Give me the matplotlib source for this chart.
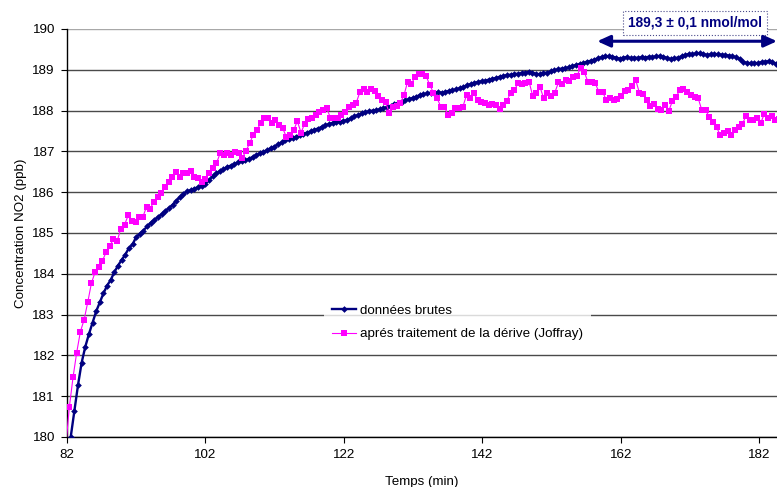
import numpy as np
import matplotlib
matplotlib.use('Agg')
import matplotlib.pyplot as plt

plt.rcParams['font.family'] = ['Liberation Sans', 'DejaVu Sans']

# raw NO2 signal, one point every ~31.5 s
T0_BRUT, DT_BRUT = 82.58, 0.525
brutes = [
	180.00, 180.64, 181.27, 181.82, 182.21, 182.52, 182.80, 183.08, 183.30, 183.52,
	183.71, 183.85, 184.04, 184.20, 184.34, 184.47, 184.63, 184.72, 184.90, 184.98,
	185.06, 185.16, 185.25, 185.32, 185.39, 185.46, 185.54, 185.61, 185.69, 185.79,
	185.88, 185.96, 186.02, 186.05, 186.09, 186.12, 186.16, 186.21, 186.29, 186.39,
	186.46, 186.51, 186.56, 186.62, 186.65, 186.69, 186.73, 186.77, 186.78, 186.82,
	186.86, 186.91, 186.95, 186.99, 187.03, 187.08, 187.12, 187.17, 187.22, 187.27,
	187.30, 187.33, 187.36, 187.40, 187.43, 187.46, 187.49, 187.53, 187.56, 187.60,
	187.64, 187.67, 187.70, 187.73, 187.72, 187.74, 187.77, 187.81, 187.86, 187.89,
	187.93, 187.96, 187.98, 188.00, 188.01, 188.03, 188.06, 188.08, 188.12, 188.15,
	188.18, 188.21, 188.25, 188.28, 188.31, 188.34, 188.38, 188.40, 188.42, 188.44,
	188.44, 188.45, 188.44, 188.46, 188.48, 188.50, 188.52, 188.55, 188.58, 188.62,
	188.65, 188.68, 188.70, 188.72, 188.73, 188.76, 188.78, 188.80, 188.83, 188.85,
	188.87, 188.88, 188.90, 188.90, 188.92, 188.93, 188.95, 188.93, 188.90, 188.89,
	188.92, 188.93, 188.96, 188.99, 189.01, 189.03, 189.04, 189.06, 189.09, 189.12,
	189.14, 189.17, 189.20, 189.22, 189.25, 189.28, 189.31, 189.34, 189.33, 189.32,
	189.30, 189.27, 189.30, 189.31, 189.28, 189.30, 189.29, 189.31, 189.30, 189.32,
	189.31, 189.33, 189.34, 189.32, 189.29, 189.26, 189.28, 189.30, 189.33, 189.36,
	189.39, 189.38, 189.40, 189.41, 189.39, 189.36, 189.38, 189.39, 189.38, 189.37,
	189.36, 189.35, 189.33, 189.31, 189.26, 189.19, 189.17, 189.16, 189.17, 189.16,
	189.19, 189.20, 189.21, 189.18, 189.15, 189.14,
]

# same signal after drift correction (Joffray)
T0_CORR, DT_CORR = 81.85, 0.531
corrigees = [
	179.73,
	180.73, 181.46, 182.07, 182.58, 182.87, 183.30, 183.77, 184.04, 184.17, 184.32,
	184.53, 184.68, 184.85, 184.80, 185.11, 185.20, 185.43, 185.29, 185.27, 185.40,
	185.40, 185.64, 185.60, 185.77, 185.89, 185.99, 186.13, 186.26, 186.38, 186.50,
	186.38, 186.47, 186.48, 186.53, 186.38, 186.34, 186.24, 186.33, 186.48, 186.60,
	186.71, 186.95, 186.90, 186.96, 186.90, 186.99, 186.95, 186.84, 187.00, 187.20,
	187.40, 187.52, 187.69, 187.81, 187.81, 187.69, 187.77, 187.65, 187.57, 187.36,
	187.40, 187.52, 187.74, 187.46, 187.68, 187.80, 187.81, 187.90, 187.97, 188.02,
	188.06, 187.82, 187.81, 187.81, 187.90, 187.97, 188.08, 188.13, 188.19, 188.45,
	188.53, 188.45, 188.52, 188.47, 188.36, 188.27, 188.20, 187.95, 188.09, 188.11,
	188.19, 188.38, 188.71, 188.65, 188.83, 188.90, 188.90, 188.85, 188.63, 188.44,
	188.30, 188.10, 188.09, 187.89, 187.95, 188.06, 188.06, 188.09, 188.38, 188.30,
	188.42, 188.27, 188.20, 188.19, 188.14, 188.16, 188.14, 188.04, 188.14, 188.24,
	188.44, 188.50, 188.67, 188.65, 188.67, 188.71, 188.36, 188.42, 188.57, 188.30,
	188.42, 188.36, 188.44, 188.69, 188.65, 188.75, 188.73, 188.83, 188.85, 189.04,
	188.95, 188.71, 188.69, 188.67, 188.46, 188.46, 188.26, 188.30, 188.27, 188.29,
	188.35, 188.49, 188.50, 188.60, 188.75, 188.44, 188.41, 188.26, 188.11, 188.16,
	188.03, 188.01, 188.14, 187.99, 188.24, 188.34, 188.50, 188.52, 188.46, 188.38,
	188.34, 188.30, 188.01, 188.01, 187.85, 187.73, 187.59, 187.40, 187.44, 187.51,
	187.40, 187.52, 187.59, 187.67, 187.87, 187.77, 187.77, 187.81, 187.70, 187.92,
	187.81, 187.87, 187.77,
	187.80,
]

xticks = [82, 102, 122, 142, 162, 182]
yticks = list(range(180, 191))

plateau = (158.6, 184.56)   # stable zone, min
valeur_txt = '189,3 ± 0,1 nmol/mol'

NAVY = '#000080'
MAGENTA = '#ff00ff'
FS = 9.6

def plot_no2():
	fig = plt.figure(figsize=(7.77, 4.87), dpi=100)
	ax = fig.add_axes([66.7/777, 50/487, 710.3/777, 408/487])

	t_b = T0_BRUT + DT_BRUT*np.arange(len(brutes))
	t_c = T0_CORR + DT_CORR*np.arange(len(corrigees))
	ax.plot(t_b, brutes, color=NAVY, lw=1.7, marker='D', ms=3.4, mew=0,
		label='données brutes', zorder=3)
	ax.plot(t_c, corrigees, color=MAGENTA, lw=0.8, marker='s', ms=4.3, mew=0,
		label='aprés traitement de la dérive (Joffray)', zorder=4)

	ax.set_xlim(82, 184.56)
	ax.set_ylim(180, 190)
	ax.set_xticks(xticks)
	ax.set_yticks(yticks)
	ax.tick_params(direction='out', length=4.5, width=0.8, labelsize=FS, pad=4)
	ax.yaxis.grid(True, color='#4a4a4a', lw=1.0)
	ax.get_ygridlines()[-1].set_color('#a8a8a8')
	ax.set_axisbelow(True)
	for s in ('top', 'right'):
		ax.spines[s].set_visible(False)
	ax.spines['left'].set_linewidth(1.0)
	ax.spines['bottom'].set_linewidth(1.0)

	ax.set_xlabel('Temps (min)', fontsize=FS, labelpad=11)
	ax.set_ylabel('Concentration NO2 (ppb)', fontsize=FS, labelpad=4)

	leg = ax.legend(loc='upper left', bbox_to_anchor=(0.3625, 0.345), frameon=True,
		fontsize=FS, handlelength=1.8, handletextpad=0.25, labelspacing=0.85,
		borderpad=0.6, borderaxespad=0, fancybox=False)
	leg.get_frame().set_edgecolor('white')
	leg.get_frame().set_linewidth(0)

	# double arrow over the plateau + value box
	ax.annotate('', xy=(plateau[0], 189.70), xytext=(plateau[1], 189.70),
		arrowprops=dict(arrowstyle='<|-|>,head_length=0.55,head_width=0.25',
			color=NAVY, lw=2.2, mutation_scale=14, shrinkA=0, shrinkB=0),
		annotation_clip=False, zorder=5)
	ax.text(172.7, 190.15, valeur_txt, ha='center', va='center', fontsize=FS + 0.3,
		fontweight='bold', color=NAVY, clip_on=False,
		bbox=dict(boxstyle='square,pad=0.35', fc='white', ec='#4a4a8a', ls=':', lw=0.8))

	fig.savefig('out.png', dpi=100)

if __name__ == '__main__':
	plot_no2()
